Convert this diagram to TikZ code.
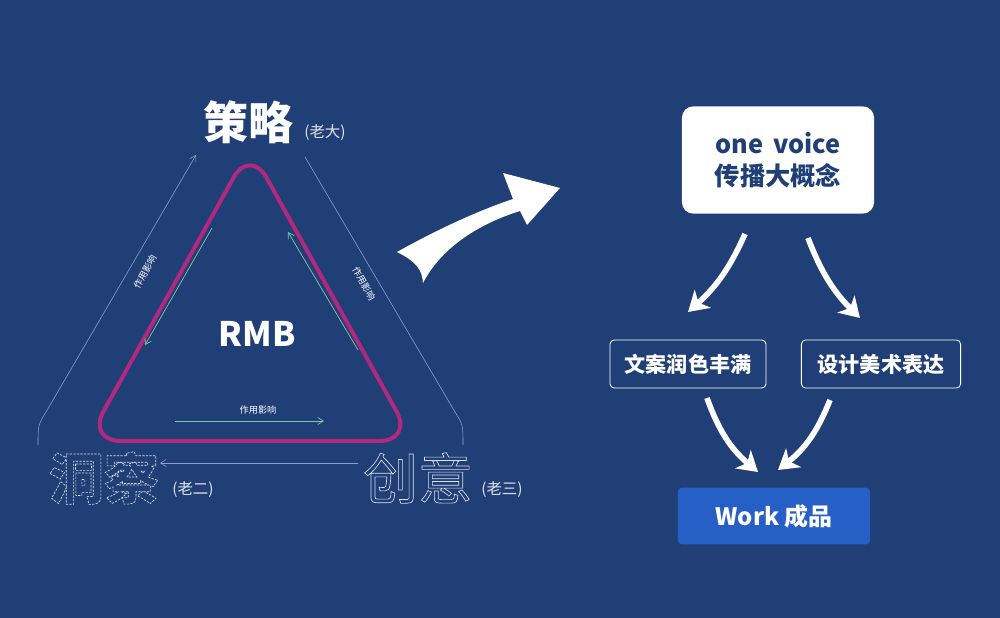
\documentclass[tikz,border=0pt]{standalone}
\usepackage{fontspec}
\setmainfont{Noto Sans CJK SC}
\usetikzlibrary{arrows.meta}
\definecolor{bg}{HTML}{213F77}
\definecolor{mag}{HTML}{B3287E}
\definecolor{grn}{HTML}{7FC99A}
\definecolor{thin}{HTML}{8FA3C8}
\definecolor{wk}{HTML}{2660C6}
\newcommand\outl[1]{\special{pdf:literal direct 1 Tr 0.45 w [1.6 0.9] 0 d}#1\special{pdf:literal direct 0 Tr [] 0 d}}
\newcommand\outs[1]{\special{pdf:literal direct 1 Tr 0.45 w}#1\special{pdf:literal direct 0 Tr}}
\begin{document}
\begin{tikzpicture}[x=0.025cm,y=-0.025cm,
  lbl/.style={text=white,font=\fontsize{6.5}{7}\selectfont,inner sep=0},
  sub/.style={text=white!85!bg,font=\fontsize{11}{12}\selectfont,inner sep=0},
  thinl/.style={draw=thin,line width=0.4pt},
  grnl/.style={draw=grn,line width=0.5pt,-{Straight Barb[length=4pt,width=5pt]}},
  fat/.style={draw=white,line width=4pt,-{Stealth[length=14pt,width=17pt,inset=4pt]}},
  obox/.style={draw=white,line width=0.6pt,rounded corners=3pt,text=white,font=\fontsize{15}{17}\selectfont\bfseries}]
\fill[bg] (0,0) rectangle (1000,618);
\useasboundingbox (0,0) rectangle (1000,618);
% top label
\node[text=white,font=\fontsize{32}{34}\selectfont\bfseries] (ce) at (248,122) {策略};
\node[sub,anchor=west] (ld) at (304,133) {(老大)};
% outer thin triangle
\coordinate (l1) at (38,445); \coordinate (l2) at (196,155);
\coordinate (r1) at (305,157); \coordinate (r2) at (463,445);
\coordinate (b1) at (358,463); \coordinate (b2) at (160,463);
\draw[thinl,-{Straight Barb[length=4pt,width=5pt]}] (l1) .. controls (38,425) .. (46,412) -- (l2);
\draw[thinl] (r1) -- (455,412) .. controls (463,425) .. (r2);
\draw[thinl,-{Straight Barb[length=4pt,width=5pt]}] (b1) -- (b2);
\node[lbl,rotate=61] (ll) at (145,272) {作用影响};
\node[lbl,rotate=-61] (rl) at (364,284) {作用影响};
% magenta triangle
\draw[mag,line width=2.8pt,rounded corners=24pt] (250,148) -- (413,441) -- (87,441) -- cycle;
\node[coordinate] (gA) at (212,228) {}; \node[coordinate] (gB) at (145,345) {};
\node[coordinate] (gC) at (358,350) {}; \node[coordinate] (gD) at (288,232) {};
\node[coordinate] (gE) at (175,421) {}; \node[coordinate] (gF) at (324,421) {};
\draw[grnl] (gA) -- (gB);
\draw[grnl] (gC) -- (gD);
\draw[grnl] (gE) -- (gF);
\node[lbl] (bl) at (258,410) {作用影响};
\node[text=white,font=\fontsize{24}{26}\selectfont\bfseries] (rmb) at (257,334) {RMB};
% bottom labels
\node[text=white!85!bg,font=\fontsize{39}{41}\selectfont\bfseries] (dc) at (104,478) {\outl{洞察}};
\node[sub,anchor=west] (l2t) at (172,490) {(老二)};
\node[text=white!85!bg,font=\fontsize{39}{41}\selectfont] (cy) at (418,478) {\outs{创意}};
\node[sub,anchor=west] (l3t) at (481,490) {(老三)};
% big arrow
\fill[white] (397,252) .. controls (440,228) and (480,210) .. (513,199) -- (503,173) -- (560,188)
  -- (527,225) -- (520,211) .. controls (475,225) and (440,250) .. (423,283) .. controls (422,270) and (417,262) .. cycle;
% right flow
\node[fill=white,rounded corners=8pt,inner sep=0,minimum width=4.8cm,minimum height=2.68cm,
  text=bg,font=\fontsize{18}{23}\selectfont\bfseries,align=center] (ov) at (778,160) {one\, voice\\传播大概念};
\node[obox,minimum width=3.9cm,minimum height=1.2cm] (wa) at (688,364) {文案润色丰满};
\node[obox,minimum width=3.98cm,minimum height=1.2cm] (sj) at (881,364) {设计美术表达};
\node[fill=wk,rounded corners=3pt,minimum width=4.8cm,minimum height=1.42cm,text=white,font=\fontsize{17}{19}\selectfont\bfseries] (wk) at (774,516) {Work 成品};
\coordinate (a1) at (745,234); \coordinate (a2) at (808,238);
\coordinate (a3) at (707,398); \coordinate (a4) at (830,400);
\coordinate (e1) at (688,312); \coordinate (e2) at (860,318);
\coordinate (e3) at (758,472); \coordinate (e4) at (778,470);
\draw[fat] (a1) to[bend left=12] (e1);
\draw[fat] (a2) to[bend right=12] (e2);
\draw[fat] (a3) to[bend right=15] (e3);
\draw[fat] (a4) to[bend left=15] (e4);
\end{tikzpicture}
\end{document}
